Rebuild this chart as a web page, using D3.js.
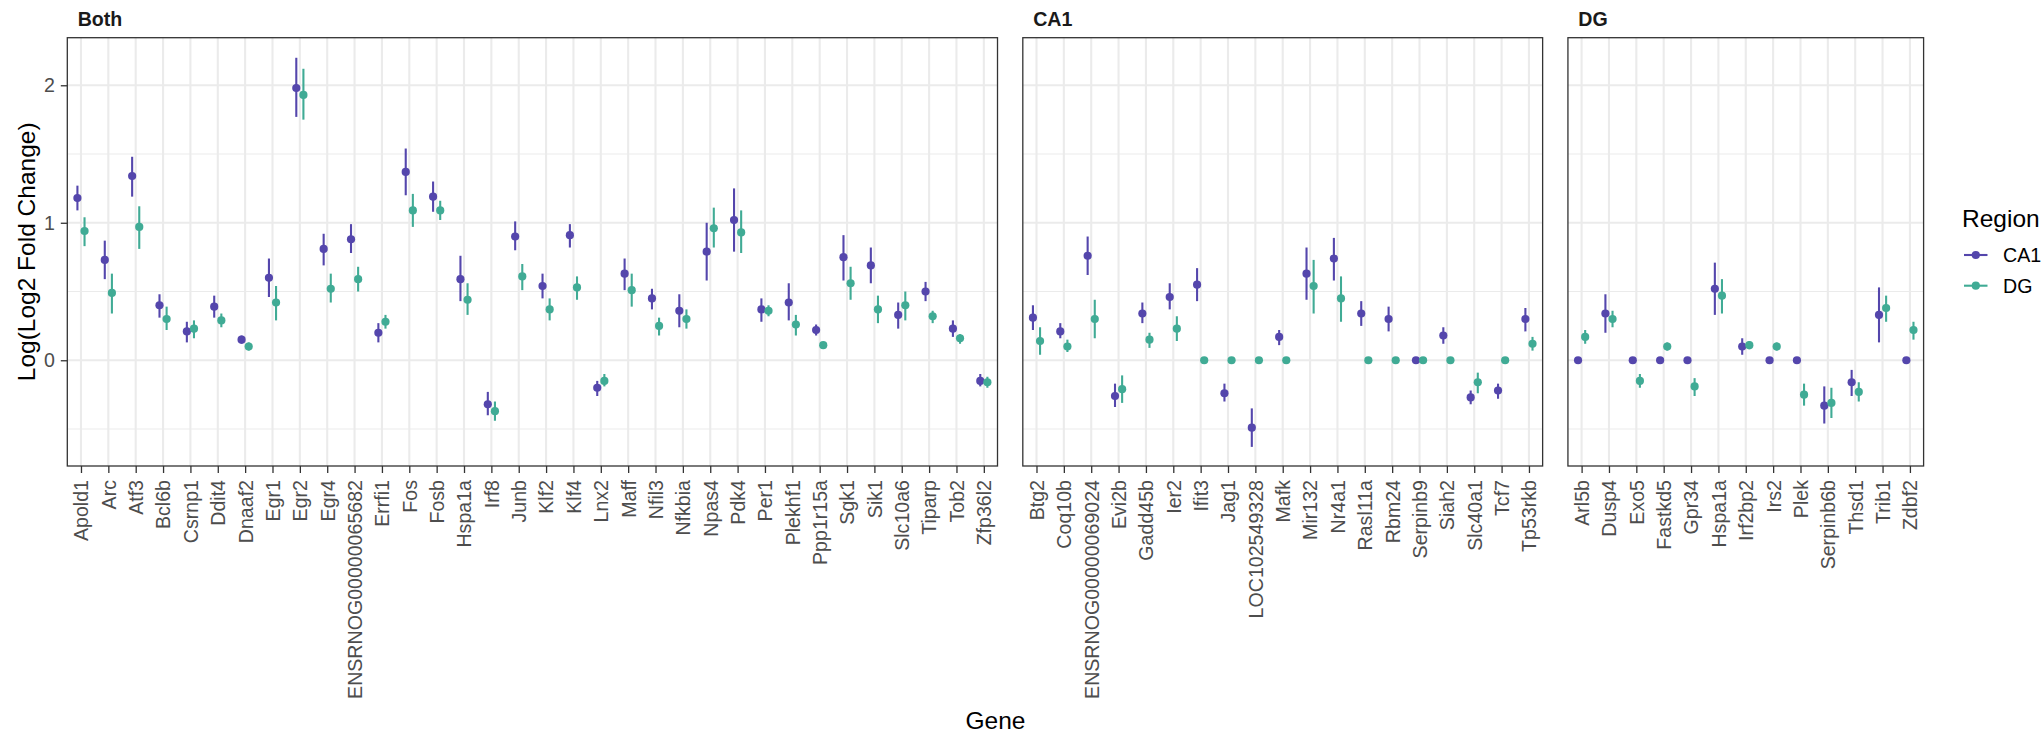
<!DOCTYPE html>
<html>
<head>
<meta charset="utf-8">
<script src="https://cdn.jsdelivr.net/npm/d3@7"></script>
<style>
  body { margin: 0; background: #fff; }
  svg { display: block; font-family: "Liberation Sans", Arial, Helvetica, sans-serif; }
</style>
</head>
<body>
<svg id="chart" width="2044" height="734"></svg>
<script>
// ---- Genes per facet ----
const bothGenes = ["Apold1","Arc","Atf3","Bcl6b","Csrnp1","Ddit4","Dnaaf2","Egr1","Egr2","Egr4",
  "ENSRNOG00000065682","Errfi1","Fos","Fosb","Hspa1a","Irf8","Junb","Klf2","Klf4","Lnx2","Maff",
  "Nfil3","Nfkbia","Npas4","Pdk4","Per1","Plekhf1","Ppp1r15a","Sgk1","Sik1","Slc10a6","Tiparp","Tob2","Zfp36l2"];
const ca1Genes = ["Btg2","Coq10b","ENSRNOG00000069024","Evi2b","Gadd45b","Ier2","Ifit3","Jag1",
  "LOC102549328","Mafk","Mir132","Nr4a1","Rasl11a","Rbm24","Serpinb9","Siah2","Slc40a1","Tcf7","Tp53rkb"];
const dgGenes = ["Arl5b","Dusp4","Exo5","Fastkd5","Gpr34","Hspa1a","Irf2bp2","Irs2","Plek",
  "Serpinb6b","Thsd1","Trib1","Zdbf2"];

// ---- "Both" facet: estimates with lower / upper interval bounds ----
const bothCA1 = [1.18,0.73,1.34,0.40,0.21,0.39,0.15,0.60,1.98,0.81,0.88,0.20,1.37,1.19,0.59,-0.32,0.90,0.54,0.91,-0.20,0.63,0.45,0.36,0.79,1.02,0.37,0.42,0.22,0.75,0.69,0.33,0.50,0.23,-0.15];
const bothCA1Lo = [1.09,0.59,1.19,0.31,0.13,0.31,0.12,0.46,1.77,0.69,0.78,0.13,1.20,1.08,0.43,-0.40,0.80,0.45,0.82,-0.26,0.51,0.37,0.24,0.58,0.79,0.28,0.29,0.18,0.58,0.56,0.23,0.43,0.17,-0.19];
const bothCA1Hi = [1.27,0.87,1.48,0.48,0.28,0.47,0.18,0.74,2.20,0.92,0.99,0.27,1.54,1.30,0.76,-0.23,1.01,0.63,0.99,-0.15,0.74,0.52,0.48,1.00,1.25,0.45,0.56,0.26,0.91,0.82,0.42,0.57,0.29,-0.10];
const bothDG = [0.94,0.49,0.97,0.30,0.23,0.29,0.10,0.42,1.93,0.52,0.59,0.28,1.09,1.09,0.44,-0.37,0.61,0.37,0.53,-0.15,0.51,0.25,0.30,0.96,0.93,0.36,0.26,0.11,0.56,0.37,0.40,0.32,0.16,-0.16];
const bothDGLo = [0.83,0.34,0.81,0.22,0.16,0.24,0.07,0.29,1.75,0.42,0.50,0.23,0.97,1.02,0.33,-0.44,0.51,0.29,0.44,-0.19,0.39,0.18,0.23,0.82,0.78,0.32,0.18,0.09,0.44,0.27,0.29,0.27,0.12,-0.20];
const bothDGHi = [1.04,0.63,1.12,0.39,0.29,0.34,0.13,0.54,2.12,0.63,0.68,0.33,1.21,1.16,0.56,-0.30,0.70,0.45,0.61,-0.10,0.63,0.31,0.37,1.11,1.09,0.40,0.33,0.13,0.68,0.47,0.50,0.36,0.19,-0.12];

// ---- "CA1" facet (null bounds = no interval drawn) ----
const ca1CA1 = [0.31,0.21,0.76,-0.26,0.34,0.46,0.55,-0.24,-0.49,0.17,0.63,0.74,0.34,0.30,0,0.18,-0.27,-0.22,0.30];
const ca1CA1Lo = [0.22,0.16,0.62,-0.34,0.27,0.37,0.43,-0.30,-0.63,0.11,0.44,0.58,0.25,0.21,null,0.12,-0.32,-0.28,0.21];
const ca1CA1Hi = [0.40,0.27,0.90,-0.17,0.42,0.56,0.67,-0.17,-0.35,0.22,0.82,0.89,0.43,0.39,null,0.24,-0.22,-0.17,0.38];
const ca1DG = [0.14,0.10,0.30,-0.21,0.15,0.23,0,0,0,0,0.54,0.45,0,0,0,0,-0.16,0,0.12];
const ca1DGLo = [0.04,0.06,0.16,-0.31,0.09,0.14,null,null,null,null,0.34,0.28,null,null,null,null,-0.24,null,0.07];
const ca1DGHi = [0.24,0.15,0.44,-0.11,0.20,0.32,null,null,null,null,0.73,0.61,null,null,null,null,-0.09,null,0.17];

// ---- "DG" facet ----
const dgCA1 = [0,0.34,0,0,0,0.52,0.10,0,0,-0.33,-0.16,0.33,0];
const dgCA1Lo = [null,0.20,null,null,null,0.33,0.04,null,null,-0.46,-0.26,0.13,null];
const dgCA1Hi = [null,0.48,null,null,null,0.71,0.16,null,null,-0.19,-0.07,0.53,null];
const dgDG = [0.17,0.30,-0.15,0.10,-0.19,0.47,0.11,0.10,-0.25,-0.31,-0.23,0.38,0.22];
const dgDGLo = [0.12,0.24,-0.20,0.07,-0.26,0.34,0.08,0.07,-0.33,-0.42,-0.30,0.28,0.15];
const dgDGHi = [0.22,0.36,-0.10,0.13,-0.13,0.59,0.14,0.13,-0.17,-0.20,-0.16,0.47,0.28];

const regions = ["CA1","DG"];
const regionColor = { CA1: "#5446AC", DG: "#40AB95" };
const yMajor = [0, 1, 2];
const yMinor = [-0.5, 0.5, 1.5];

function rows(genes, region, mean, lo, hi) {
  return genes.map((g, i) => ({ gene: g, region, value: mean[i], lo: lo[i], hi: hi[i] }));
}

const facets = [
  { title: "Both", genes: bothGenes,
    data: rows(bothGenes, "CA1", bothCA1, bothCA1Lo, bothCA1Hi).concat(rows(bothGenes, "DG", bothDG, bothDGLo, bothDGHi)) },
  { title: "CA1", genes: ca1Genes,
    data: rows(ca1Genes, "CA1", ca1CA1, ca1CA1Lo, ca1CA1Hi).concat(rows(ca1Genes, "DG", ca1DG, ca1DGLo, ca1DGHi)) },
  { title: "DG", genes: dgGenes,
    data: rows(dgGenes, "CA1", dgCA1, dgCA1Lo, dgCA1Hi).concat(rows(dgGenes, "DG", dgDG, dgDGLo, dgDGHi)) }
];

// ---- Layout ----
const svg = d3.select("#chart");
const plotLeft = 67.3, plotRight = 1923.6, panelTop = 37.7, panelBottom = 466, gap = 25.3;
const nTotal = d3.sum(facets, f => f.genes.length);
const step = (plotRight - plotLeft - gap * (facets.length - 1)) / nTotal;
const dodge = step * 0.13;

const y = d3.scaleLinear().domain([-0.769, 2.346]).range([panelBottom, panelTop]);

const tickFont = 19.6, titleFont = 24.5;
const grid = "#EBEBEB", ink = "#333333", tickText = "#4D4D4D";

let left = plotLeft;
facets.forEach((f, fi) => {
  const w = f.genes.length * step;
  const x = d3.scalePoint().domain(f.genes).range([left, left + w]).padding(0.5);
  const g = svg.append("g");

  // grid
  g.selectAll(".ymin").data(yMinor).join("line")
    .attr("x1", left).attr("x2", left + w).attr("y1", d => y(d)).attr("y2", d => y(d))
    .attr("stroke", grid).attr("stroke-width", 1.1);
  g.selectAll(".ymaj").data(yMajor).join("line")
    .attr("x1", left).attr("x2", left + w).attr("y1", d => y(d)).attr("y2", d => y(d))
    .attr("stroke", grid).attr("stroke-width", 2.1);
  g.selectAll(".xmaj").data(f.genes).join("line")
    .attr("x1", d => x(d)).attr("x2", d => x(d)).attr("y1", panelTop).attr("y2", panelBottom)
    .attr("stroke", grid).attr("stroke-width", 2.1);

  // point ranges, dodged by region
  const off = r => (r === "CA1" ? -dodge : dodge);
  regions.forEach(r => {
    const d = f.data.filter(p => p.region === r);
    g.append("g").selectAll("line").data(d.filter(p => p.lo != null)).join("line")
      .attr("x1", p => x(p.gene) + off(r)).attr("x2", p => x(p.gene) + off(r))
      .attr("y1", p => y(p.lo)).attr("y2", p => y(p.hi))
      .attr("stroke", regionColor[r]).attr("stroke-width", 2.1);
    g.append("g").selectAll("circle").data(d).join("circle")
      .attr("cx", p => x(p.gene) + off(r)).attr("cy", p => y(p.value)).attr("r", 4.1)
      .attr("fill", regionColor[r]);
  });

  // panel border
  g.append("rect").attr("x", left).attr("y", panelTop).attr("width", w).attr("height", panelBottom - panelTop)
    .attr("fill", "none").attr("stroke", ink).attr("stroke-width", 1.3);

  // strip title
  g.append("text").attr("x", left + 10.4).attr("y", 26)
    .attr("font-size", tickFont).attr("font-weight", "bold").attr("fill", "#1A1A1A").text(f.title);

  // x axis
  const xa = g.append("g").attr("transform", `translate(0,${panelBottom})`)
    .call(d3.axisBottom(x).tickSize(7).tickPadding(7));
  xa.select(".domain").remove();
  xa.selectAll(".tick line").attr("stroke", ink).attr("stroke-width", 1.3);
  xa.selectAll(".tick text")
    .attr("transform", "rotate(-90)").attr("x", -14).attr("y", 0).attr("dy", "0.35em")
    .attr("text-anchor", "end").attr("font-size", tickFont).attr("fill", tickText)
    .attr("font-family", "Liberation Sans, Arial, sans-serif");

  // y axis on the first facet only
  if (fi === 0) {
    const ya = g.append("g").attr("transform", `translate(${left},0)`)
      .call(d3.axisLeft(y).tickValues(yMajor).tickFormat(d3.format("d")).tickSize(6.5).tickPadding(6));
    ya.select(".domain").remove();
    ya.selectAll(".tick line").attr("stroke", ink).attr("stroke-width", 1.3);
    ya.selectAll(".tick text").attr("font-size", tickFont).attr("fill", tickText)
      .attr("font-family", "Liberation Sans, Arial, sans-serif");
  }

  left += w + gap;
});

// axis titles
svg.append("text").attr("transform", `translate(34.5,${(panelTop + panelBottom) / 2}) rotate(-90)`)
  .attr("text-anchor", "middle").attr("font-size", titleFont).attr("fill", "#000").text("Log(Log2 Fold Change)");
svg.append("text").attr("x", (plotLeft + plotRight) / 2).attr("y", 729)
  .attr("text-anchor", "middle").attr("font-size", titleFont).attr("fill", "#000").text("Gene");

// legend
const lg = svg.append("g");
lg.append("text").attr("x", 1962).attr("y", 227).attr("font-size", titleFont).attr("fill", "#000").text("Region");
regions.forEach((r, i) => {
  const cy = 255 + i * 30.7;
  lg.append("line").attr("x1", 1964).attr("x2", 1987.5).attr("y1", cy).attr("y2", cy)
    .attr("stroke", regionColor[r]).attr("stroke-width", 2.1);
  lg.append("circle").attr("cx", 1975.8).attr("cy", cy).attr("r", 4.1).attr("fill", regionColor[r]);
  lg.append("text").attr("x", 2003).attr("y", cy).attr("dy", "0.35em")
    .attr("font-size", tickFont).attr("fill", "#000").text(r);
});
</script>
</body>
</html>
